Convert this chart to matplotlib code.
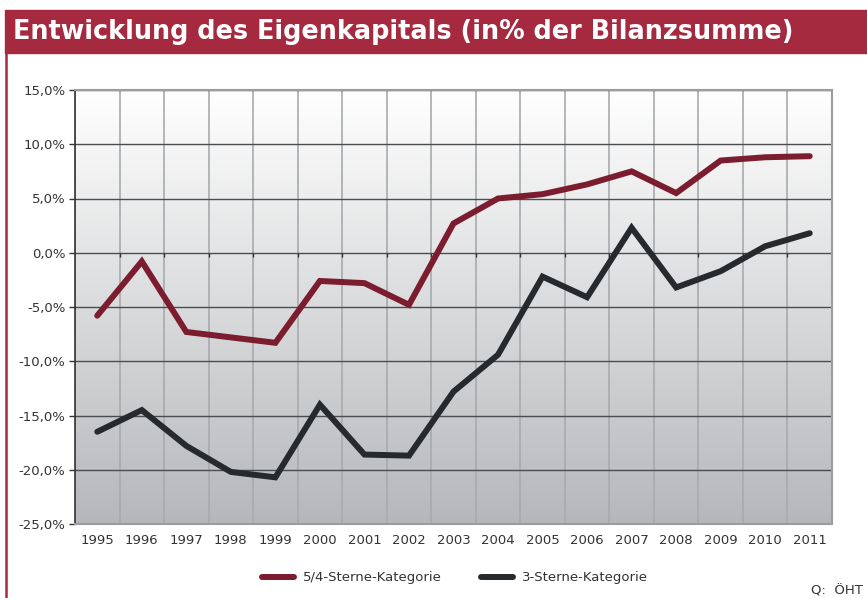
import matplotlib
matplotlib.use("Agg")
import matplotlib.pyplot as plt
import numpy as np
from matplotlib.patches import Rectangle
from matplotlib.lines import Line2D

# Daten
jahre = ["1995", "1996", "1997", "1998", "1999", "2000", "2001", "2002", "2003",
         "2004", "2005", "2006", "2007", "2008", "2009", "2010", "2011"]
sterne_54 = [-5.8, -0.8, -7.3, -7.8, -8.3, -2.6, -2.8, -4.8, 2.7,
             5.0, 5.4, 6.3, 7.5, 5.5, 8.5, 8.8, 8.9]
sterne_3 = [-16.5, -14.5, -17.8, -20.2, -20.7, -14.0, -18.6, -18.7, -12.8,
            -9.4, -2.2, -4.1, 2.3, -3.2, -1.7, 0.6, 1.8]
y_ticks = [-25, -20, -15, -10, -5, 0, 5, 10, 15]

rot = "#7b1c2f"
schwarz = "#272a2d"
balken = "#a52a3f"
textfarbe = "#333333"

plt.rcParams['font.family'] = ['DejaVu Sans']

fig = plt.figure(figsize=(8.67, 5.98), dpi=100)

# Titelbalken
fig.patches.append(Rectangle((5 / 867, 1 - 53 / 598), 1, 43 / 598, transform=fig.transFigure,
                             color=balken, zorder=0))
fig.text(13 / 867, 1 - 32 / 598, "Entwicklung des Eigenkapitals (in% der Bilanzsumme)",
         color="white", fontsize=18.4, fontweight="bold", va="center", ha="left")
# linker Rand
fig.add_artist(Line2D([5.5 / 867, 5.5 / 867], [0, 1 - 53 / 598], transform=fig.transFigure,
                      color=balken, lw=1.8))

ax = fig.add_axes([75 / 867, 1 - 524 / 598, 757 / 867, 434 / 598])
x = np.arange(len(jahre))

# Hintergrundverlauf
grad = np.linspace(0, 1, 256).reshape(-1, 1)
ax.imshow(grad, cmap=matplotlib.colors.LinearSegmentedColormap.from_list(
    "g", ["#b5b7ba", "#ffffff"]), aspect="auto", extent=(-0.5, len(jahre) - 0.5, -25, 15),
    origin="lower", zorder=0)

ax.plot(x, sterne_54, color=rot, lw=4.3, solid_capstyle="round", solid_joinstyle="miter",
        zorder=3, label="5/4-Sterne-Kategorie")
ax.plot(x, sterne_3, color=schwarz, lw=4.3, solid_capstyle="round", solid_joinstyle="miter",
        zorder=3, label="3-Sterne-Kategorie")

ax.set_xlim(-0.5, len(jahre) - 0.5)
ax.set_ylim(-25, 15)
ax.set_xticks(x)
ax.set_xticklabels(jahre, fontsize=9.5, color=textfarbe)
ax.set_xticks(np.arange(len(jahre) + 1) - 0.5, minor=True)
ax.set_yticks(y_ticks)
ax.set_yticklabels([f"{v:.1f}%".replace(".", ",") for v in y_ticks], fontsize=9.5,
                   color=textfarbe)
ax.tick_params(axis="x", which="both", length=0, pad=7)
ax.tick_params(axis="y", length=4, width=1, color=textfarbe, pad=3)

ax.grid(axis="x", which="minor", color="#a8aaae", lw=1.2, zorder=1)
ax.grid(axis="y", which="major", color="#4a4c50", lw=1.0, zorder=1)
ax.set_axisbelow(True)
# kleine Striche an der Nulllinie
ax.vlines(np.arange(1, len(jahre)) - 0.5, -0.35, 0, color=textfarbe, lw=1.0, zorder=2)

for s in ["top", "right", "bottom"]:
    ax.spines[s].set_color("#9a9ca0")
    ax.spines[s].set_linewidth(1.5)
ax.spines["left"].set_color(textfarbe)
ax.spines["left"].set_linewidth(1.2)

fig.legend(loc="center", bbox_to_anchor=(455 / 867, 1 - 578 / 598), ncol=2, frameon=False,
           fontsize=9.5, handlelength=2.4, columnspacing=3.0, handletextpad=0.7,
           labelcolor=textfarbe)
fig.text(811 / 867, 1 - 591 / 598, "Q:  ÖHT", fontsize=9.5, color=textfarbe, va="center")

fig.savefig("out.png", dpi=100)
